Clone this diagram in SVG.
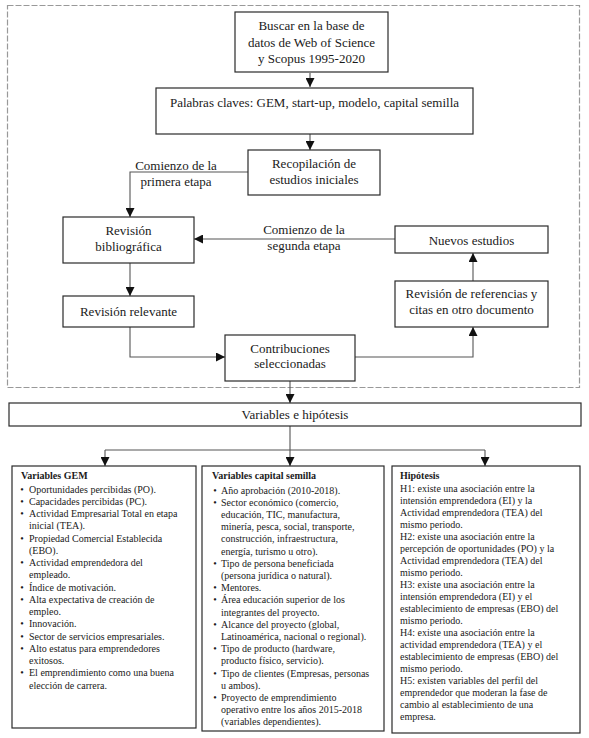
<svg xmlns="http://www.w3.org/2000/svg" width="589" height="738" viewBox="0 0 589 738" font-family="'Liberation Serif', 'Times New Roman', Times, 'DejaVu Serif', serif">
<style>
text{font-family:'Liberation Serif','Times New Roman',Times,'DejaVu Serif',serif;fill:#1a1a1a}
.t{font-size:13px;text-anchor:middle}
.s{font-size:10px}
.b{font-weight:bold}
.c{text-anchor:middle}
.box{fill:#fff;stroke:#2a2a2a;stroke-width:1.2}
.ln{fill:none;stroke:#555;stroke-width:1.1}
</style>
<defs>
<marker id="ar" viewBox="0 0 10 10" refX="10" refY="5" markerWidth="9" markerHeight="9" markerUnits="userSpaceOnUse" orient="auto"><path d="M0,0L10,5L0,10z" fill="#111"/></marker>
</defs>
<rect x="0" y="0" width="589" height="738" fill="#fff"/>
<rect x="7.5" y="5.5" width="572" height="382" fill="none" stroke="#999" stroke-width="1.2" stroke-dasharray="6,2"/>
<g id="connectors">
<path class="ln" d="M310,73V87" marker-end="url(#ar)"/>
<path class="ln" d="M310,134V150" marker-end="url(#ar)"/>
<path class="ln" d="M248,172H130V217" marker-end="url(#ar)"/>
<path class="ln" d="M395,239H194" marker-end="url(#ar)"/>
<path class="ln" d="M130,263V296" marker-end="url(#ar)"/>
<path class="ln" d="M130,327V357H225" marker-end="url(#ar)"/>
<path class="ln" d="M355,357H473V327" marker-end="url(#ar)"/>
<path class="ln" d="M473,281V253" marker-end="url(#ar)"/>
<path class="ln" d="M290,381V403" marker-end="url(#ar)"/>
<path class="ln" d="M290,426V450M105,450H485"/>
<path class="ln" d="M105,450V466" marker-end="url(#ar)"/>
<path class="ln" d="M290,450V466" marker-end="url(#ar)"/>
<path class="ln" d="M485,450V466" marker-end="url(#ar)"/>
<text class="t" x="176" y="170">Comienzo de la</text>
<text class="t" x="176" y="186">primera etapa</text>
<text class="t" x="304" y="234">Comienzo de la</text>
<text class="t" x="304" y="250">segunda etapa</text>
</g>
<g id="buscar">
<rect class="box" x="235" y="12" width="153" height="60"/>
<text class="t" x="311.5" y="30">Buscar en la base de</text>
<text class="t" x="311.5" y="47">datos de Web of Science</text>
<text class="t" x="311.5" y="63">y Scopus 1995-2020</text>
</g>
<g id="palabras">
<rect class="box" x="156" y="88" width="317" height="46"/>
<text class="t" x="314.5" y="106.5">Palabras claves: GEM, start-up, modelo, capital semilla</text>
</g>
<g id="recopilacion">
<rect class="box" x="248" y="150" width="132" height="45"/>
<text class="t" x="314" y="167.5">Recopilación de</text>
<text class="t" x="314" y="183.5">estudios iniciales</text>
</g>
<g id="revision-bibliografica">
<rect class="box" x="63" y="217" width="131" height="46"/>
<text class="t" x="128.5" y="234.5">Revisión</text>
<text class="t" x="128.5" y="250.5">bibliográfica</text>
</g>
<g id="nuevos-estudios">
<rect class="box" x="395" y="226" width="153" height="27"/>
<text class="t" x="471.5" y="244.5">Nuevos estudios</text>
</g>
<g id="revision-referencias">
<rect class="box" x="395" y="281" width="153" height="46"/>
<text class="t" x="471.5" y="297.5">Revisión de referencias y</text>
<text class="t" x="471.5" y="313.5">citas en otro documento</text>
</g>
<g id="revision-relevante">
<rect class="box" x="63" y="296" width="131" height="31"/>
<text class="t" x="128.5" y="316">Revisión relevante</text>
</g>
<g id="contribuciones">
<rect class="box" x="225" y="335" width="130" height="46"/>
<text class="t" x="290" y="352.5">Contribuciones</text>
<text class="t" x="290" y="368">seleccionadas</text>
</g>
<g id="variables-hipotesis">
<rect class="box" x="9" y="403" width="572" height="23"/>
<text class="t" x="295" y="419">Variables e hipótesis</text>
</g>
<g id="variables-gem">
<rect class="box" x="12" y="466" width="184" height="262"/>
<text class="s b" x="21" y="478.5">Variables GEM</text>
<text class="s c" x="22" y="492.5">•</text><text class="s" x="29" y="492.5">Oportunidades percibidas (PO).</text>
<text class="s c" x="22" y="504.75">•</text><text class="s" x="29" y="504.75">Capacidades percibidas (PC).</text>
<text class="s c" x="22" y="517">•</text><text class="s" x="29" y="517">Actividad Empresarial Total en etapa</text>
<text class="s" x="29" y="529.25">inicial (TEA).</text>
<text class="s c" x="22" y="541.5">•</text><text class="s" x="29" y="541.5">Propiedad Comercial Establecida</text>
<text class="s" x="29" y="553.75">(EBO).</text>
<text class="s c" x="22" y="566">•</text><text class="s" x="29" y="566">Actividad emprendedora del</text>
<text class="s" x="29" y="578.25">empleado.</text>
<text class="s c" x="22" y="590.5">•</text><text class="s" x="29" y="590.5">Índice de motivación.</text>
<text class="s c" x="22" y="602.75">•</text><text class="s" x="29" y="602.75">Alta expectativa de creación de</text>
<text class="s" x="29" y="615">empleo.</text>
<text class="s c" x="22" y="627.25">•</text><text class="s" x="29" y="627.25">Innovación.</text>
<text class="s c" x="22" y="639.5">•</text><text class="s" x="29" y="639.5">Sector de servicios empresariales.</text>
<text class="s c" x="22" y="651.75">•</text><text class="s" x="29" y="651.75">Alto estatus para emprendedores</text>
<text class="s" x="29" y="664">exitosos.</text>
<text class="s c" x="22" y="676.25">•</text><text class="s" x="29" y="676.25">El emprendimiento como una buena</text>
<text class="s" x="29" y="688.5">elección de carrera.</text>
</g>
<g id="variables-capital-semilla">
<rect class="box" x="202" y="466" width="182" height="265"/>
<text class="s b" x="212" y="478.5">Variables capital semilla</text>
<text class="s c" x="215" y="493.5">•</text><text class="s" x="221" y="493.5">Año aprobación (2010-2018).</text>
<text class="s c" x="215" y="505.7">•</text><text class="s" x="221" y="505.7">Sector económico (comercio,</text>
<text class="s" x="221" y="517.9">educación, TIC, manufactura,</text>
<text class="s" x="221" y="530.1">minería, pesca, social, transporte,</text>
<text class="s" x="221" y="542.3">construcción, infraestructura,</text>
<text class="s" x="221" y="554.5">energía, turismo u otro).</text>
<text class="s c" x="215" y="566.7">•</text><text class="s" x="221" y="566.7">Tipo de persona beneficiada</text>
<text class="s" x="221" y="578.9">(persona jurídica o natural).</text>
<text class="s c" x="215" y="591.1">•</text><text class="s" x="221" y="591.1">Mentores.</text>
<text class="s c" x="215" y="603.3">•</text><text class="s" x="221" y="603.3">Área educación superior de los</text>
<text class="s" x="221" y="615.5">integrantes del proyecto.</text>
<text class="s c" x="215" y="627.7">•</text><text class="s" x="221" y="627.7">Alcance del proyecto (global,</text>
<text class="s" x="221" y="639.9">Latinoamérica, nacional o regional).</text>
<text class="s c" x="215" y="652.1">•</text><text class="s" x="221" y="652.1">Tipo de producto (hardware,</text>
<text class="s" x="221" y="664.3">producto físico, servicio).</text>
<text class="s c" x="215" y="676.5">•</text><text class="s" x="221" y="676.5">Tipo de clientes (Empresas, personas</text>
<text class="s" x="221" y="688.7">u ambos).</text>
<text class="s c" x="215" y="700.9">•</text><text class="s" x="221" y="700.9">Proyecto de emprendimiento</text>
<text class="s" x="221" y="713.1">operativo entre los años 2015-2018</text>
<text class="s" x="221" y="725.3">(variables dependientes).</text>
</g>
<g id="hipotesis">
<rect class="box" x="392" y="466" width="188" height="267"/>
<text class="s b" x="400" y="478.5">Hipótesis</text>
<text class="s" x="400" y="491.5">H1: existe una asociación entre la</text>
<text class="s" x="400" y="503.5">intensión emprendedora (EI) y la</text>
<text class="s" x="400" y="515.5">Actividad emprendedora (TEA) del</text>
<text class="s" x="400" y="527.5">mismo periodo.</text>
<text class="s" x="400" y="539.5">H2: existe una asociación entre la</text>
<text class="s" x="400" y="551.5">percepción de oportunidades (PO) y la</text>
<text class="s" x="400" y="563.5">Actividad emprendedora (TEA) del</text>
<text class="s" x="400" y="575.5">mismo periodo.</text>
<text class="s" x="400" y="587.5">H3: existe una asociación entre la</text>
<text class="s" x="400" y="599.5">intensión emprendedora (EI) y el</text>
<text class="s" x="400" y="611.5">establecimiento de empresas (EBO) del</text>
<text class="s" x="400" y="623.5">mismo periodo.</text>
<text class="s" x="400" y="635.5">H4: existe una asociación entre la</text>
<text class="s" x="400" y="647.5">actividad emprendedora (TEA) y el</text>
<text class="s" x="400" y="659.5">establecimiento de empresas (EBO) del</text>
<text class="s" x="400" y="671.5">mismo periodo.</text>
<text class="s" x="400" y="683.5">H5: existen variables del perfil del</text>
<text class="s" x="400" y="695.5">emprendedor que moderan la fase de</text>
<text class="s" x="400" y="707.5">cambio al establecimiento de una</text>
<text class="s" x="400" y="719.5">empresa.</text>
</g>
</svg>
